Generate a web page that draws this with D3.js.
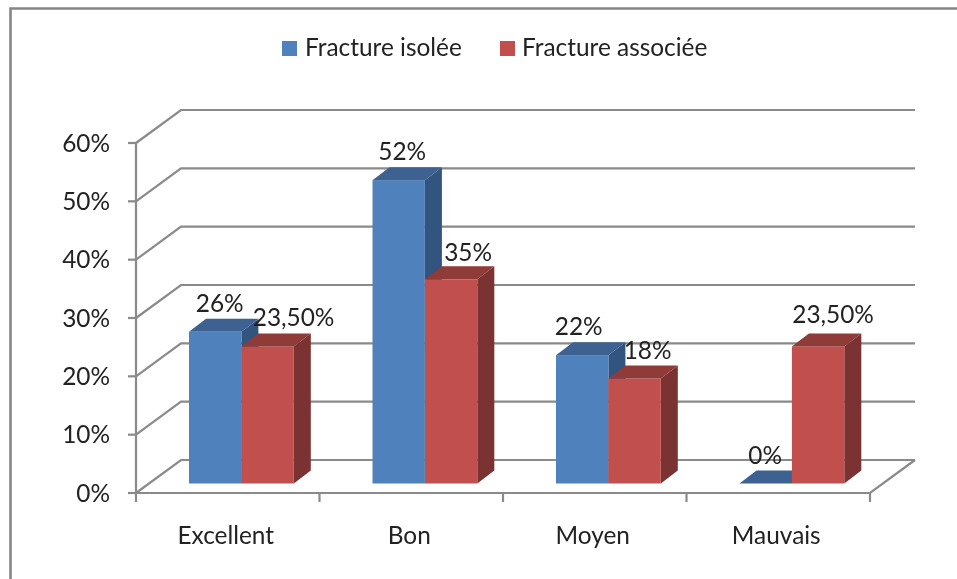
<!DOCTYPE html>
<html><head><meta charset="utf-8">
<script src="https://cdn.jsdelivr.net/npm/d3@7"></script>
<style>html,body{margin:0;padding:0;background:#fff}svg{display:block}text{font-family:Lato,"Open Sans",sans-serif;fill:#222}</style>
</head><body><svg id="c" width="957" height="579"></svg>
<script>
const categories = ["Excellent","Bon","Moyen","Mauvais"];
const seriesNames = ["Fracture isolée","Fracture associée"];
const isolee = [26,52,22,0];
const associee = [23.5,35,18,23.5];
const isoleeLabels = ["26%","52%","22%","0%"];
const associeeLabels = ["23,50%","35%","18%","23,50%"];
const yTicks = [0,10,20,30,40,50,60];
// hand-placed label nudges [dx, dy]
const isoleeNudge = [[4,1],[3,1],[-4,1],[-1,1]];
const associeeNudge = [[18,1],[9,3],[5,1],[7,-2]];

const front = {blue:"#4f81bd",red:"#c0504d"};
const top_ = {blue:"#3c6291",red:"#8f3a38"};
const side = {blue:"#335480",red:"#7a3230"};
const FS = 24.4;
const svg = d3.select("#c");
svg.append("defs").append("filter").attr("id","soft").attr("x","-5%").attr("y","-5%").attr("width","110%").attr("height","110%")
  .append("feGaussianBlur").attr("stdDeviation",0.55);
const root = svg.append("g").attr("filter","url(#soft)");

// frame: only the top and left edges are visible
root.append("path").attr("d","M10.5,579V8.5H957").attr("fill","none").attr("stroke","#868686").attr("stroke-width",2.6);

const x = d3.scaleBand().domain(categories).range([136,870]);
const y = d3.scaleLinear().domain([0,60]).range([493,143]);
const wallDx=45, wallDy=-33, barDx=17, barDy=-13, baseDy=-9.5, inset=53, barW=52.4;
const grid="#8a8a8a";
const g = root.append("g");
const line = d3.line();
yTicks.forEach(t=>{
  g.append("path").attr("d",line([[x.range()[0],y(t)],[x.range()[0]+wallDx,y(t)+wallDy],[x.range()[1]+wallDx,y(t)+wallDy]]))
   .attr("fill","none").attr("stroke",grid).attr("stroke-width",2.2);
  g.append("line").attr("x1",128).attr("x2",136).attr("y1",y(t)).attr("y2",y(t)).attr("stroke",grid).attr("stroke-width",2.2);
  g.append("text").attr("x",110).attr("y",y(t)+8.5).attr("text-anchor","end").attr("font-size",FS).text(t+"%");
});
g.append("line").attr("x1",136).attr("x2",136).attr("y1",y(60)).attr("y2",y(0)).attr("stroke",grid).attr("stroke-width",2.2);
g.append("path").attr("d",line([[136,y(0)],[870,y(0)],[870+wallDx,y(0)+wallDy]])).attr("fill","none").attr("stroke",grid).attr("stroke-width",2.2);
categories.concat([null]).forEach(c=>{
  const px = c? x(c): x.range()[1];
  g.append("line").attr("x1",px).attr("x2",px).attr("y1",493).attr("y2",502).attr("stroke",grid).attr("stroke-width",2.2);
});
categories.forEach(c=>{
  g.append("text").attr("x",x(c)+x.bandwidth()/2-2).attr("y",544).attr("text-anchor","middle").attr("font-size",FS).text(c);
});
function bar(cat,k,val,col){
  const x0 = x(cat)+inset+k*barW, x1 = x0+barW;
  const base = y(0)+baseDy, t = y(val)+baseDy;
  if(val>0){
    g.append("path").attr("d",line([[x1,t],[x1+barDx,t+barDy],[x1+barDx,base+barDy],[x1,base]])+"Z").attr("fill",side[col]);
    g.append("rect").attr("x",x0).attr("y",t).attr("width",barW).attr("height",base-t).attr("fill",front[col]);
  }
  g.append("path").attr("d",line([[x0,t],[x1,t],[x1+barDx,t+barDy],[x0+barDx,t+barDy]])+"Z").attr("fill",top_[col]);
}
categories.forEach((c,i)=>{bar(c,0,isolee[i],"blue");bar(c,1,associee[i],"red");});
categories.forEach((c,i)=>{
  [[isolee,isoleeLabels,isoleeNudge,0],[associee,associeeLabels,associeeNudge,1]].forEach(([v,l,n,k])=>{
    const cx = x(c)+inset+k*barW+barW/2+barDx/2+(k===1?-0.5:-8)+n[i][0];
    g.append("text").attr("x",cx).attr("y",y(v[i])+baseDy+barDy-8+n[i][1]).attr("text-anchor","middle").attr("font-size",FS).text(l[i]);
  });
});
const lg=[{x:282,t:305,c:front.blue,n:seriesNames[0]},{x:500,t:522,c:front.red,n:seriesNames[1]}];
lg.forEach(d=>{
  g.append("rect").attr("x",d.x).attr("y",41).attr("width",15).attr("height",15).attr("fill",d.c);
  g.append("text").attr("x",d.t).attr("y",56).attr("font-size",FS).text(d.n);
});
</script></body></html>
